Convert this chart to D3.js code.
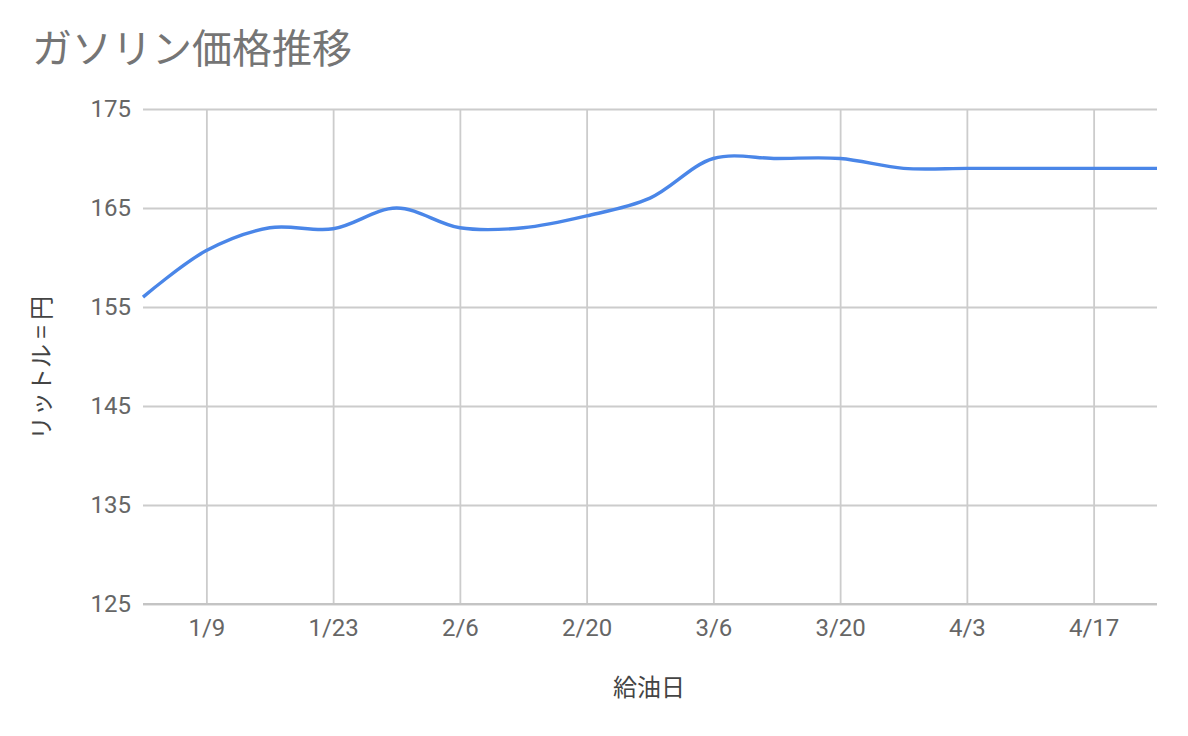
<!DOCTYPE html>
<html>
<head>
<meta charset="utf-8">
<script src="https://cdn.jsdelivr.net/npm/d3@7"></script>
<style>
  html, body { margin: 0; padding: 0; background: #fff; }
  svg { display: block; }
</style>
</head>
<body>
<svg id="chart" width="1188" height="736"></svg>
<script>
const title = "ガソリン価格推移";
const xTitle = "給油日";
const yTitle = "リットル = 円";
const dates = ["2023-01-02","2023-01-09","2023-01-16","2023-01-23","2023-01-30","2023-02-06","2023-02-13","2023-02-20","2023-02-27","2023-03-06","2023-03-13","2023-03-20","2023-03-27","2023-04-03","2023-04-10","2023-04-17","2023-04-24"];
const prices = [156, 160.7, 163, 162.9, 165, 163, 163, 164.2, 166, 170, 170, 170, 169, 169, 169, 169, 169];
const xTickDates = ["2023-01-09","2023-01-23","2023-02-06","2023-02-20","2023-03-06","2023-03-20","2023-04-03","2023-04-17"];
const yTicks = [125, 135, 145, 155, 165, 175];
const xDomain = ["2023-01-02", "2023-04-24"];

(function () {
const parse = d3.utcParse("%Y-%m-%d");
const data = dates.map((d, i) => ({ date: parse(d), value: prices[i] }));

const svg = d3.select("#chart");
const pl = 143, pr = 1157, pt = 109, pb = 604;

const x = d3.scaleUtc().domain(xDomain.map(parse)).range([pl, pr]);
const y = d3.scaleLinear().domain([125, 175]).range([pb, pt]);

const jpFont = "'Noto Sans CJK JP', 'Noto Sans', sans-serif";
const numFont = "Roboto, 'Noto Sans', sans-serif";

svg.append("text")
  .attr("x", 32).attr("y", 63)
  .attr("font-family", jpFont).attr("font-size", 40)
  .attr("fill", "#757575")
  .text(title);

const yAxis = d3.axisLeft(y).tickValues(yTicks).tickSize(-(pr - pl)).tickPadding(12).tickFormat(d3.format("d"));
const gy = svg.append("g").attr("transform", `translate(${pl},0)`).call(yAxis);
gy.select(".domain").remove();
gy.selectAll(".tick line").attr("stroke", "#cccccc").attr("stroke-width", 1.8);
gy.selectAll(".tick text").attr("font-family", numFont).attr("font-size", 24).attr("fill", "#666666");

const xAxis = d3.axisBottom(x).tickValues(xTickDates.map(parse)).tickSize(-(pb - pt)).tickPadding(15).tickFormat(d3.utcFormat("%-m/%-d"));
const gx = svg.append("g").attr("transform", `translate(0,${pb})`).call(xAxis);
gx.select(".domain").remove();
gx.selectAll(".tick line").attr("stroke", "#cccccc").attr("stroke-width", 1.8);
gx.selectAll(".tick text").attr("font-family", numFont).attr("font-size", 24).attr("fill", "#666666");

svg.append("line")
  .attr("x1", pl).attr("x2", pr)
  .attr("y1", y(125)).attr("y2", y(125))
  .attr("stroke", "#c4c4c4").attr("stroke-width", 1.8);

const line = d3.line()
  .x(d => x(d.date))
  .y(d => y(d.value))
  .curve(d3.curveCatmullRom.alpha(0.5));

svg.append("path")
  .datum(data)
  .attr("fill", "none")
  .attr("stroke", "#4a86e8")
  .attr("stroke-width", 3.4)
  .attr("stroke-linejoin", "round")
  .attr("d", line);

svg.append("text")
  .attr("x", 649).attr("y", 696)
  .attr("text-anchor", "middle")
  .attr("font-family", jpFont).attr("font-size", 24)
  .attr("fill", "#444444")
  .text(xTitle);

svg.append("text")
  .attr("transform", `translate(50, 368) rotate(-90)`)
  .attr("text-anchor", "middle")
  .attr("font-family", jpFont).attr("font-size", 24)
  .attr("fill", "#444444")
  .text(yTitle);
})();
</script>
</body>
</html>
